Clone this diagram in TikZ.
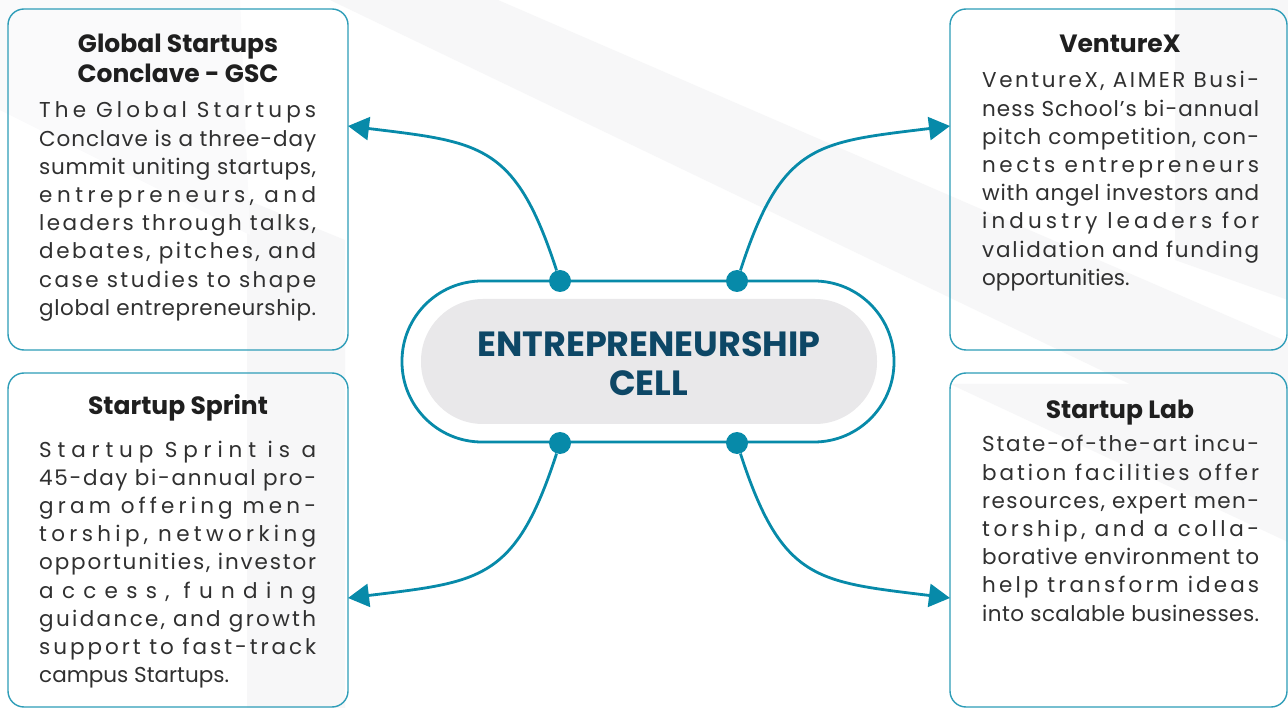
\documentclass[tikz,border=0pt]{standalone}
\usepackage{fontspec}
\setmainfont{Poppins}
\usetikzlibrary{arrows.meta}
\definecolor{teal1}{HTML}{078AA9}
\definecolor{boxc}{HTML}{2E9DB8}
\definecolor{navy}{HTML}{0D4766}
\definecolor{pill}{HTML}{E9E8EA}
\definecolor{txt}{HTML}{303030}
\definecolor{ttl}{HTML}{1F1F1F}
\definecolor{bgg}{HTML}{F7F7F8}
\makeatletter
\def\LS@stop{\LS@stop}
\def\LS@end{\LS@end}
\def\LS@gap{\hskip 0pt plus 1fil minus 1fil\relax}
\def\LS@wgap{\hskip\fontdimen2\font plus 1fil minus 1fil\relax}
\def\LSline#1{\LS@word#1 \LS@end}
\def\LS@word#1 #2\LS@end{\LS@letters#1\LS@stop
  \ifx\relax#2\relax\else\LS@wgap\LS@word#2\LS@end\fi}
\def\LS@letters#1{#1\LS@more}
\def\LS@more#1{\ifx#1\LS@stop\else\LS@gap#1\expandafter\LS@more\fi}
\makeatother
\newcommand\jl[1]{\hbox to 277pt{\LSline{#1}}}
\newcommand\nl[1]{\hbox{#1}}
\newcommand\bodybox[1]{\vtop{\baselineskip=28.2pt\lineskiplimit=-20pt\lineskip=0pt #1}}
\begin{document}
\begin{tikzpicture}[x=1pt,y=1pt,
  card/.style={draw=boxc, line width=1.4pt, rounded corners=16pt, inner sep=0pt},
  ttlstyle/.style={font=\fontsize{25}{30}\selectfont\bfseries, text=ttl, inner sep=0pt, anchor=base},
  bodystyle/.style={font=\fontsize{21.5}{28}\selectfont, text=txt, inner sep=0pt, anchor=base west},
  ctext/.style={font=\fontsize{35}{39}\selectfont\bfseries, text=navy, inner sep=0pt, anchor=base},
  dot/.style={circle, fill=teal1, minimum size=22pt, inner sep=0pt},
  conn/.style={draw=teal1, line width=2.8pt, -{Triangle[length=21pt,width=23pt]}, looseness=1.35}]
\useasboundingbox (0,0) rectangle (1288,-708);
\fill[white] (0,0) rectangle (1288,-708);
% faint background shapes
\fill[bgg] (330,0) -- (498,0) -- (1288,-342) -- (1288,-460) -- cycle;
\fill[bgg] (247,-200) -- (345,-240) -- (345,-708) -- (247,-708) -- cycle;
\fill[bgg] (1175,0) -- (1288,0) -- (1288,-300) -- (1175,-260) -- cycle;
\fill[bgg] (950,-384) -- (1288,-384) -- (1288,-542) -- cycle;
\fill[bgg!60] (0,0) -- (240,0) -- (250,-235) -- (0,-110) -- cycle;
% cards
\node[card, minimum width=340pt, minimum height=341pt] (gsc) at (178,-179.5) {};
\node[card, minimum width=337pt, minimum height=341pt] (vx) at (1118.5,-179.5) {};
\node[card, minimum width=340pt, minimum height=334pt] (ss) at (178,-540) {};
\node[card, minimum width=337pt, minimum height=334pt] (sl) at (1118.5,-540) {};
% titles
\node[ttlstyle] (gsct1) at (178,-53) {Global Startups};
\node[ttlstyle] (gsct2) at (178,-83) {Conclave - GSC};
\node[ttlstyle] (vxt) at (1120,-53) {VentureX};
\node[ttlstyle] (sst) at (178,-415) {Startup Sprint};
\node[ttlstyle] (slt) at (1120,-419) {Startup Lab};
% bodies
\node[bodystyle] (gscb) at (39,-118) {\bodybox{%
\jl{The Global Startups}
\jl{Conclave is a three-day}
\jl{summit uniting startups,}
\jl{entrepreneurs, and}
\jl{leaders through talks,}
\jl{debates, pitches, and}
\jl{case studies to shape}
\jl{global entrepreneurship.}}};
\node[bodystyle] (vxb) at (982,-88) {\bodybox{%
\jl{VentureX, AIMER Busi-}
\jl{ness School’s bi-annual}
\jl{pitch competition, con-}
\jl{nects entrepreneurs}
\jl{with angel investors and}
\jl{industry leaders for}
\jl{validation and funding}
\nl{opportunities.}}};
\node[bodystyle] (ssb) at (39,-457) {\bodybox{%
\jl{Startup Sprint is a}
\jl{45-day bi-annual pro-}
\jl{gram offering men-}
\jl{torship, networking}
\jl{opportunities, investor}
\jl{access, funding}
\jl{guidance, and growth}
\jl{support to fast-track}
\nl{campus Startups.}}};
\node[bodystyle] (slb) at (982,-452) {\bodybox{%
\jl{State-of-the-art incu-}
\jl{bation facilities offer}
\jl{resources, expert men-}
\jl{torship, and a colla-}
\jl{borative environment to}
\jl{help transform ideas}
\jl{into scalable businesses.}}};
% centre
\node[draw=teal1, line width=2.8pt, rounded corners=80pt, minimum width=492pt, minimum height=161pt, inner sep=0pt, fill=white] (cellout) at (648,-361.5) {};
\node[fill=pill, rounded corners=62pt, minimum width=456pt, minimum height=125pt, inner sep=0pt] (cell) at (649,-361.5) {};
\node[ctext] (c1) at (649,-357) {ENTREPRENEURSHIP};
\node[ctext] (c2) at (648.5,-396) {CELL};
% connector ends
\coordinate (a1) at (348,-126);
\coordinate (a2) at (950,-126);
\coordinate (a3) at (348,-598);
\coordinate (a4) at (950,-598);
\node[dot] (d1) at (560,-281) {};
\node[dot] (d2) at (737,-281) {};
\node[dot] (d3) at (560,-443) {};
\node[dot] (d4) at (737,-443) {};
\draw[conn] (d1) to[out=108,in=-7] (a1);
\draw[conn] (d2) to[out=72,in=187] (a2);
\draw[conn] (d3) to[out=-108,in=7] (a3);
\draw[conn] (d4) to[out=-72,in=173] (a4);
\end{tikzpicture}
\end{document}
